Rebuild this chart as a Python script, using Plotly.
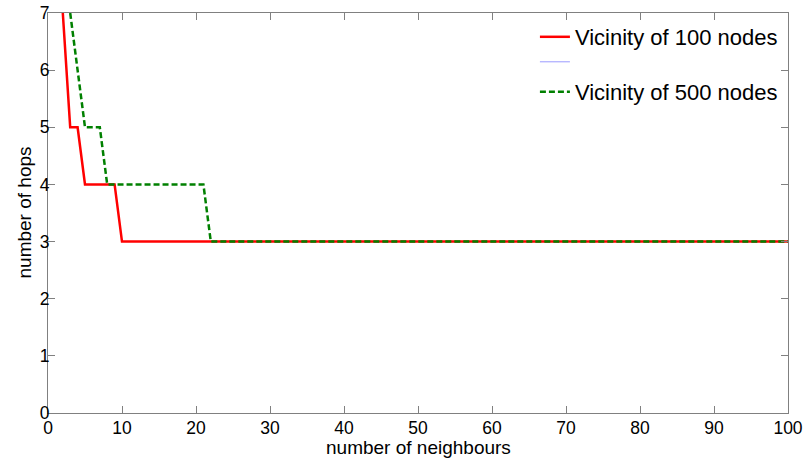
import plotly.graph_objects as go

# Data
x_100 = [2, 3, 4, 5, 6, 7, 8, 9, 10] + list(range(20, 101, 10))
y_100 = [7, 5, 5, 4, 4, 4, 4, 4, 3] + [3] * 9

x_500 = [3, 4, 5, 6, 7, 8, 10, 15, 20, 21, 22] + list(range(30, 101, 10))
y_500 = [7, 6, 5, 5, 5, 4, 4, 4, 4, 4, 3] + [3] * 8

x_ticks = list(range(0, 101, 10))
y_ticks = list(range(0, 8))

x_title = "number of neighbours"
y_title = "number of hops"

font_family = "Liberation Sans, Arial, sans-serif"

fig = go.Figure()
fig.add_trace(go.Scatter(x=x_100, y=y_100, mode="lines", name="Vicinity of 100 nodes",
                         line=dict(color="#ff0000", width=2.5), legend="legend"))
fig.add_trace(go.Scatter(x=[None], y=[None], mode="lines", name="",
                         line=dict(color="#9a9aff", width=1), legend="legend2"))
fig.add_trace(go.Scatter(x=x_500, y=y_500, mode="lines", name="Vicinity of 500 nodes",
                         line=dict(color="#008000", width=2.5, dash="6px,3px"), legend="legend3"))

axis_common = dict(showgrid=False, zeroline=False, showline=True, linecolor="#808080",
                   linewidth=1, mirror="ticks", ticks="inside", ticklen=7, tickcolor="#808080",
                   automargin=False,
                   tickfont=dict(family=font_family, size=17.5, color="black"))

leg_common = dict(xanchor="left", yanchor="middle", bgcolor="rgba(0,0,0,0)",
                  font=dict(size=22, family=font_family, color="black"), itemwidth=30,
                  borderwidth=0)

fig.update_layout(
    width=804, height=459,
    margin=dict(l=48, r=16, t=13, b=46, autoexpand=False),
    paper_bgcolor="white", plot_bgcolor="white",
    font=dict(family=font_family, color="black"),
    showlegend=True,
    legend=dict(x=0.658, y=0.94, **leg_common),
    legend2=dict(x=0.658, y=0.8775, **leg_common),
    legend3=dict(x=0.658, y=0.8025, **leg_common),
    xaxis=dict(range=[0, 100], tickvals=x_ticks, ticklabelstandoff=-1, **axis_common),
    yaxis=dict(range=[0, 7], tickvals=y_ticks, ticklabelstandoff=-6, **axis_common),
    annotations=[
        dict(text=x_title, xref="paper", yref="paper", x=0.5, y=0, xanchor="center",
             yanchor="middle", yshift=-34, showarrow=False,
             font=dict(size=19, family=font_family, color="black")),
        dict(text=y_title, xref="paper", yref="paper", x=0, y=0.5, xanchor="center",
             yanchor="middle", xshift=-24.5, textangle=-90, showarrow=False,
             font=dict(size=19, family=font_family, color="black")),
    ],
)

fig.write_html("out.html", config={"displayModeBar": False},
               post_script="document.body.style.margin='0px';")
